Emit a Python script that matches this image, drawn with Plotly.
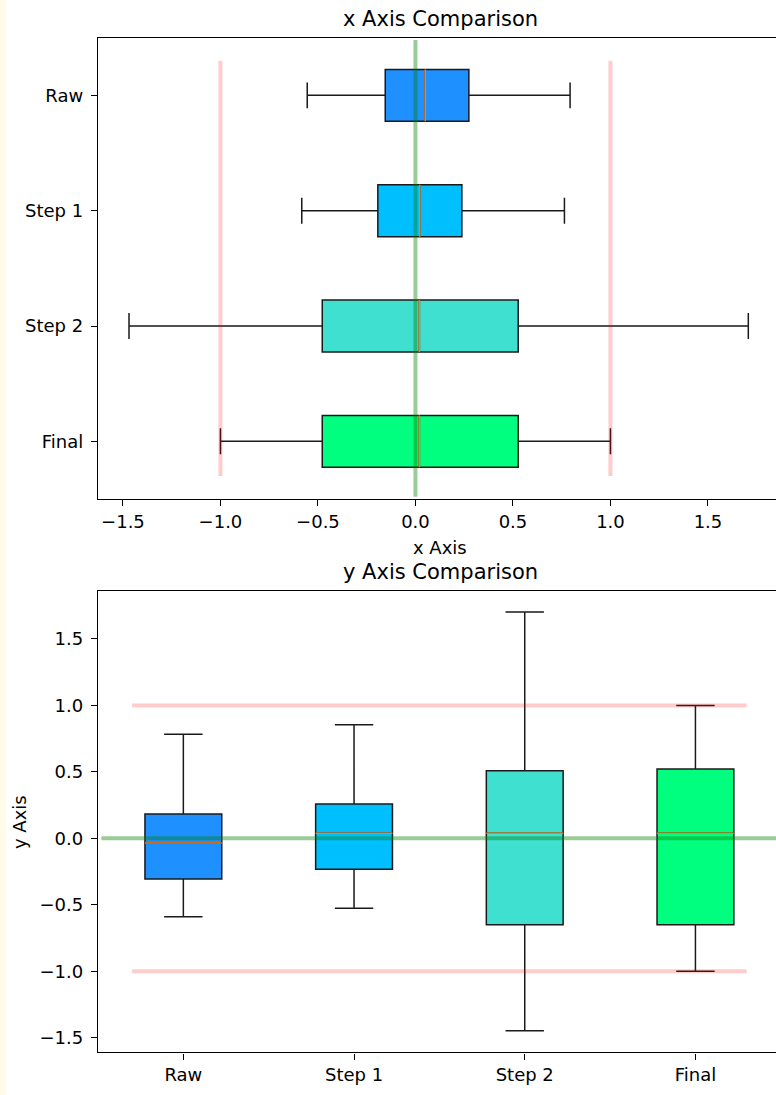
import plotly.graph_objects as go

# ---------------- data ----------------
categories = ["Raw", "Step 1", "Step 2", "Final"]
box_colors = ["#1E90FF", "#00BFFF", "#40E0D0", "#00FF7F"]

# x Axis comparison (horizontal boxes)
x_low = [-0.555, -0.583, -1.469, -1.0]
x_q1 = [-0.155, -0.193, -0.478, -0.478]
x_med = [0.050, 0.022, 0.020, 0.020]
x_q3 = [0.274, 0.238, 0.527, 0.527]
x_high = [0.793, 0.764, 1.707, 1.0]

# y Axis comparison (vertical boxes)
y_low = [-0.590, -0.527, -1.448, -1.0]
y_q1 = [-0.306, -0.233, -0.650, -0.650]
y_med = [-0.035, 0.038, 0.038, 0.038]
y_q3 = [0.183, 0.258, 0.509, 0.521]
y_high = [0.783, 0.855, 1.703, 1.0]

limit_values = [-1.0, 1.0]
center_value = 0.0
tick_values = [-1.5, -1.0, -0.5, 0.0, 0.5, 1.0, 1.5]

# ---------------- layout constants ----------------
W, H = 776, 1095
FONT = "DejaVu Sans"
BOX_W = 0.45
pos_top = [4, 3, 2, 1]
pos_bot = [1, 2, 3, 4]
limit_span = [0.7, 4.3]
center_span = [0.52, 4.48]
RED = "rgba(255,0,0,0.2)"
GREEN = "rgba(0,128,0,0.4)"
MED = "#ff7f0e"
EDGE = "#1a1a1a"

fig = go.Figure()

# reference lines (drawn first, under the boxes)
for v in limit_values:
    fig.add_trace(go.Scatter(x=[v, v], y=limit_span, mode="lines",
                             line=dict(color=RED, width=4), xaxis="x", yaxis="y",
                             hoverinfo="skip", showlegend=False))
    fig.add_trace(go.Scatter(x=limit_span, y=[v, v], mode="lines",
                             line=dict(color=RED, width=4), xaxis="x2", yaxis="y2",
                             hoverinfo="skip", showlegend=False))
fig.add_trace(go.Scatter(x=[center_value, center_value], y=center_span, mode="lines",
                         line=dict(color=GREEN, width=4), xaxis="x", yaxis="y",
                         hoverinfo="skip", showlegend=False))
fig.add_trace(go.Scatter(x=center_span, y=[center_value, center_value], mode="lines",
                         line=dict(color=GREEN, width=4), xaxis="x2", yaxis="y2",
                         hoverinfo="skip", showlegend=False))

# boxes
for i, cat in enumerate(categories):
    fig.add_trace(go.Box(
        orientation="h", y=[pos_top[i]],
        q1=[x_q1[i]], median=[x_med[i]], q3=[x_q3[i]],
        lowerfence=[x_low[i]], upperfence=[x_high[i]],
        width=BOX_W, whiskerwidth=0.5, boxpoints=False,
        fillcolor=box_colors[i], line=dict(color=EDGE, width=1.5),
        xaxis="x", yaxis="y", name=cat, showlegend=False))
    fig.add_trace(go.Scatter(
        x=[x_med[i], x_med[i]], y=[pos_top[i] - BOX_W / 2, pos_top[i] + BOX_W / 2],
        mode="lines", line=dict(color=MED, width=1.6), xaxis="x", yaxis="y",
        hoverinfo="skip", showlegend=False))

    fig.add_trace(go.Box(
        x=[pos_bot[i]],
        q1=[y_q1[i]], median=[y_med[i]], q3=[y_q3[i]],
        lowerfence=[y_low[i]], upperfence=[y_high[i]],
        width=BOX_W, whiskerwidth=0.5, boxpoints=False,
        fillcolor=box_colors[i], line=dict(color=EDGE, width=1.5),
        xaxis="x2", yaxis="y2", name=cat, showlegend=False))
    fig.add_trace(go.Scatter(
        x=[pos_bot[i] - BOX_W / 2, pos_bot[i] + BOX_W / 2], y=[y_med[i], y_med[i]],
        mode="lines", line=dict(color=MED, width=1.6), xaxis="x2", yaxis="y2",
        hoverinfo="skip", showlegend=False))

tickfont = dict(family=FONT, size=18, color="#000000")
axis_common = dict(showline=True, linecolor="#000000", linewidth=1.4,
                   ticks="outside", ticklen=6, tickwidth=1.4, tickcolor="#000000",
                   showgrid=False, zeroline=False, tickfont=tickfont, fixedrange=True)

left = 98 / W
fig.update_layout(
    width=W, height=H,
    margin=dict(l=0, r=0, t=0, b=0),
    paper_bgcolor="white", plot_bgcolor="white",
    boxmode="overlay",
    xaxis=dict(domain=[left, 1.0], anchor="y", range=[-1.628, 1.849],
               tickvals=tick_values, tickformat=".1f", mirror=True, **axis_common),
    yaxis=dict(domain=[1 - 499 / H, 1 - 37.7 / H], anchor="x", range=[0.5, 4.5],
               tickvals=pos_top, ticktext=categories, mirror=False,
               ticklabelstandoff=4, **axis_common),
    xaxis2=dict(domain=[left, 1.0], anchor="y2", range=[0.5, 4.472],
                tickvals=pos_bot, ticktext=categories, mirror=True, **axis_common),
    yaxis2=dict(domain=[1 - 1052.3 / H, 1 - 591 / H], anchor="x2", range=[-1.610, 1.861],
                tickvals=tick_values, tickformat=".1f", mirror=False,
                ticklabelstandoff=4, **axis_common),
    shapes=[dict(type="rect", xref="paper", yref="paper", x0=0, x1=6 / W, y0=0, y1=1,
                 fillcolor="#fffde8", line=dict(width=0), layer="below")],
)

cx = 440 / W
title_font = dict(family=FONT, size=21, color="#000000")
label_font = dict(family=FONT, size=18, color="#000000")
fig.add_annotation(text="x Axis Comparison", xref="paper", yref="paper",
                   x=cx, y=1 - 19.5 / H, xanchor="center", yanchor="middle",
                   showarrow=False, font=title_font)
fig.add_annotation(text="y Axis Comparison", xref="paper", yref="paper",
                   x=cx, y=1 - 572 / H, xanchor="center", yanchor="middle",
                   showarrow=False, font=title_font)
fig.add_annotation(text="x Axis", xref="paper", yref="paper",
                   x=cx, y=1 - 547 / H, xanchor="center", yanchor="middle",
                   showarrow=False, font=label_font)
fig.add_annotation(text="y Axis", xref="paper", yref="paper",
                   x=19 / W, y=1 - 822 / H, xanchor="center", yanchor="middle",
                   textangle=-90, showarrow=False, font=label_font)

fig.write_html("out.html",
               config={"displayModeBar": False},
               post_script="document.body.style.margin='0';"
                           "document.body.style.overflow='hidden';")
